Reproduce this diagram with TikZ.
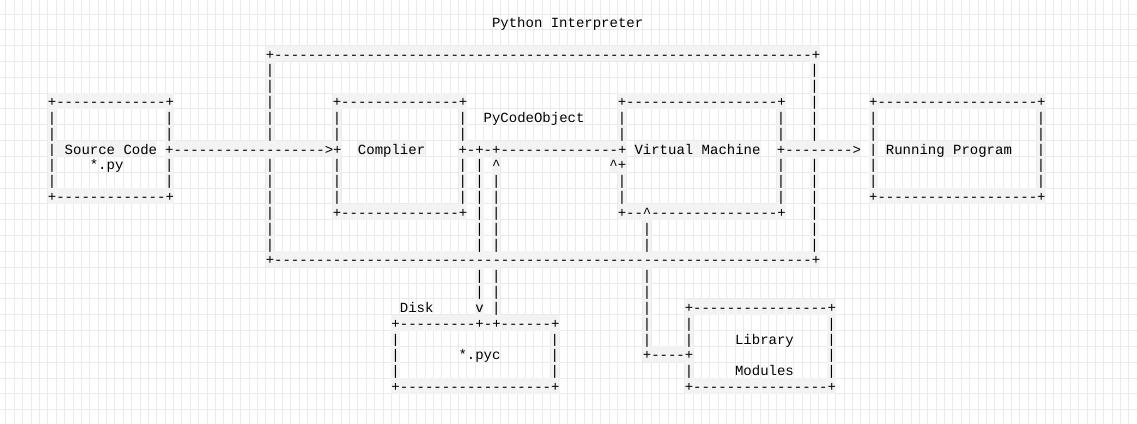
\documentclass[tikz,border=0pt]{standalone}
\usepackage{fontspec}
\setmonofont{Liberation Mono}
\definecolor{GridGray}{HTML}{EBEBEB}
\definecolor{CellGray}{HTML}{F3F3F3}
\newcommand{\dashrun}[1]{\foreach \k in {1,...,#1}{-}}
\tikzset{
  cell/.style={anchor=north west, inner sep=0pt, outer sep=0pt,
    font=\ttfamily\fontsize{10.5pt}{11.87pt}\selectfont,
    text height=10.05pt, text depth=1.82pt},
  line/.style={cell, fill=CellGray},
  word/.style={cell},
  gridline/.style={GridGray, line width=0.75pt}
}
\begin{document}
\begin{tikzpicture}[x=6.285pt, y=-11.8725pt]
    %%Canvas
    \path[use as bounding box, fill=white] (-0.716,-0.8844) rectangle (134.964,25.9);
    \foreach \k in {0,...,134} \draw[gridline] (\k,-0.8844) -- (\k,25.9);
    \foreach \k in {0,...,25} \draw[gridline] (-0.716,\k) -- (134.964,\k);
    %%Horizontal edges
    \node[line] (interpTop) at (31,2) {+\dashrun{64}+};
    \node[line] (srcTop) at (5,5) {+\dashrun{13}+};
    \node[line] (compTop) at (39,5) {+\dashrun{14}+};
    \node[line] (vmTop) at (73,5) {+\dashrun{18}+};
    \node[line] (runTop) at (103,5) {+\dashrun{19}+};
    \node[line] (srcBot) at (5,11) {+\dashrun{13}+};
    \node[line] (runBot) at (103,11) {+\dashrun{19}+};
    \node[line] (compBot) at (39,12) {+\dashrun{14}+};
    \node[line] (vmBot) at (73,12) {+--\textasciicircum\dashrun{15}+};
    \node[line] (interpBot) at (31,15) {+\dashrun{64}+};
    \node[line] (libTop) at (81,18) {+\dashrun{16}+};
    \node[line] (pycTop) at (46,19) {+\dashrun{9}+-+\dashrun{6}+};
    \node[line] (libLink) at (76,21) {+----+};
    \node[line] (pycBot) at (46,23) {+\dashrun{18}+};
    \node[line] (libBot) at (81,23) {+\dashrun{16}+};
    %%Main row
    \node[line] (srcMid) at (5,8) {| Source Code};
    \node[line] (toComp) at (19,8) {+\dashrun{18}>+};
    \node[line] (comp) at (42,8) {Complier};
    \node[line] (toVm) at (54,8) {+-+-+\dashrun{14}+};
    \node[line] (vm) at (75,8) {Virtual Machine};
    \node[line] (toRun) at (92,8) {+\dashrun{8}>};
    \node[line] (runLeft) at (103,8) {|};
    \node[line] (run) at (105,8) {Running Program};
    \node[line] (runRight) at (123,8) {|};
    %%Arrow heads
    \node[line] (pycUp) at (58,9) {\textasciicircum};
    \node[line] (vmIn) at (72,9) {\textasciicircum+};
    \node[line] (pycDown) at (56,18) {v};
    %%Vertical edges
    \foreach \c/\rows in {5/{6,7,9,10}, 19/{6,7,9,10},
        31/{3,4,5,6,7,9,10,11,12,13,14}, 39/{6,7,9,10,11}, 54/{6,7,9,10,11},
        56/{9,10,11,12,13,14,16,17}, 58/{10,11,12,13,14,16,17,18},
        73/{6,7,10,11}, 76/{13,14,16,17,18,19,20}, 92/{6,7,9,10,11},
        96/{3,4,5,6,7,9,10,11,12,13,14}, 103/{6,7,9,10}, 123/{6,7,9,10},
        46/{20,21,22}, 65/{20,21,22}, 81/{19,20,22}, 98/{19,20,21,22}}
      \foreach \r in \rows
        \node[line] (bar-\c-\r) at (\c,\r) {|};
    %%Labels
    \node[word] (title) at (58,0) {Python Interpreter};
    \node[word] (codeObj) at (57,6) {PyCodeObject};
    \node[word] (srcExt) at (10,9) {*.py};
    \node[word] (disk) at (47,18) {Disk};
    \node[word] (lib) at (87,20) {Library};
    \node[word] (pyc) at (54,21) {*.pyc};
    \node[word] (mods) at (87,22) {Modules};
\end{tikzpicture}
\end{document}
